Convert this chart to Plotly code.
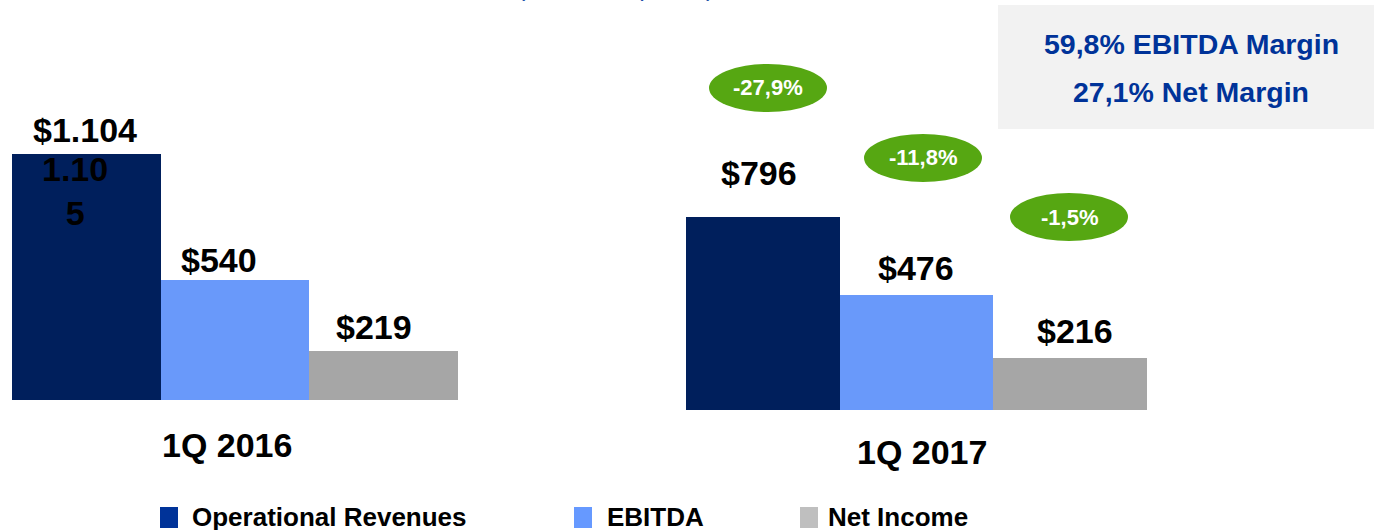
import plotly.graph_objects as go

W, H = 1374, 530

series = ["Operational Revenues", "EBITDA", "Net Income"]
periods = ["1Q 2016", "1Q 2017"]
values_2016 = [1104, 540, 219]
values_2017 = [796, 476, 216]
labels_2016 = ["$1.104", "$540", "$219"]
labels_2017 = ["$796", "$476", "$216"]
stray_label = "1.105"
changes = ["-27,9%", "-11,8%", "-1,5%"]
margins = ["59,8% EBITDA Margin", "27,1% Net Margin"]
subtitle = "(Billions of pesos)"

bar_colors = ["#001F5C", "#6999FA", "#A6A6A6"]
legend_colors = ["#003399", "#6699FF", "#BFBFBF"]
FONT = "Arial, Liberation Sans, sans-serif"


def px(x):
    return x / W


def py(y):
    return 1 - y / H


fig = go.Figure()
fig.add_trace(go.Bar(x=series, y=values_2016, marker=dict(color=bar_colors, line_width=0),
                     xaxis="x", yaxis="y", showlegend=False, hoverinfo="x+y"))
fig.add_trace(go.Bar(x=series, y=values_2017, marker=dict(color=bar_colors, line_width=0),
                     xaxis="x2", yaxis="y2", showlegend=False, hoverinfo="x+y"))

ax = dict(showgrid=False, zeroline=False, showticklabels=False, showline=False, fixedrange=True)
fig.update_layout(
    width=W, height=H, margin=dict(l=0, r=0, t=0, b=0),
    paper_bgcolor="white", plot_bgcolor="white", bargap=0,
    font=dict(family=FONT, color="black"),
    xaxis=dict(domain=[px(12), px(458)], **ax),
    yaxis=dict(domain=[py(400), 1], range=[0, 1795], **ax),
    xaxis2=dict(domain=[px(686), px(1147)], anchor="y2", **ax),
    yaxis2=dict(domain=[py(410), 1], range=[0, 1691], anchor="x2", **ax),
)

ann = []
shapes = []


def note(x, y, text, size, color="black", xanchor="center", yanchor="middle", **kw):
    d = dict(x=x, y=y, xref="paper", yref="paper", text=text, showarrow=False,
             xanchor=xanchor, yanchor=yanchor, font=dict(size=size, color=color))
    d.update(kw)
    ann.append(d)


# value labels above bars
shift_16 = [(-1, 24), (-16, 20), (-10, 24)]
shift_17 = [(-4, 44), (-1, 27), (5, 27)]
for s, v, t, (dx, dy) in zip(series, values_2016, labels_2016, shift_16):
    note(s, v, "<b>%s</b>" % t, 34, xref="x", yref="y", xshift=dx, yshift=dy)
for s, v, t, (dx, dy) in zip(series, values_2017, labels_2017, shift_17):
    note(s, v, "<b>%s</b>" % t, 34, xref="x2", yref="y2", xshift=dx, yshift=dy)

# leftover inner label in the first bar
note(series[0], values_2016[0], "<b>%s<br>%s</b>" % (stray_label[:-1], stray_label[-1]), 34,
     xref="x", yref="y", xshift=-11, yshift=-37)

# period labels
for p, (cx, cy) in zip(periods, [(227, 445), (922, 452)]):
    note(px(cx), py(cy), "<b>%s</b>" % p, 34)

# change ellipses
for c, (cx, cy) in zip(changes, [(768, 88), (923, 158), (1069, 217)]):
    shapes.append(dict(type="circle", xref="paper", yref="paper",
                       x0=px(cx - 59), x1=px(cx + 59), y0=py(cy + 24), y1=py(cy - 24),
                       fillcolor="#56A712", line_width=0, layer="above"))
    note(px(cx), py(cy), "<b>%s</b>" % c, 22, color="white")

# margin box
shapes.append(dict(type="rect", xref="paper", yref="paper", x0=px(998), x1=1, y0=py(129), y1=py(5),
                   fillcolor="#F2F2F2", line_width=0, layer="below"))
for m, cy in zip(margins, [44, 92]):
    note(px(1191), py(cy), "<b>%s</b>" % m, 28.5, color="#003399")

# clipped subtitle at the very top
note(px(615), py(3), subtitle, 25, color="#2050A8", yanchor="bottom")

# legend
for s, col, sq, tx in zip(series, legend_colors, [160, 574, 800], [190, 605, 826]):
    shapes.append(dict(type="rect", xref="paper", yref="paper", x0=px(sq), x1=px(sq + 18),
                       y0=py(528), y1=py(507), fillcolor=col, line_width=0))
    note(px(tx), py(517), "<b>%s</b>" % s, 26, xanchor="left")

fig.update_layout(annotations=ann, shapes=shapes)
fig.write_html("out.html", config={"displayModeBar": False},
               post_script="document.body.style.margin='0px';")
